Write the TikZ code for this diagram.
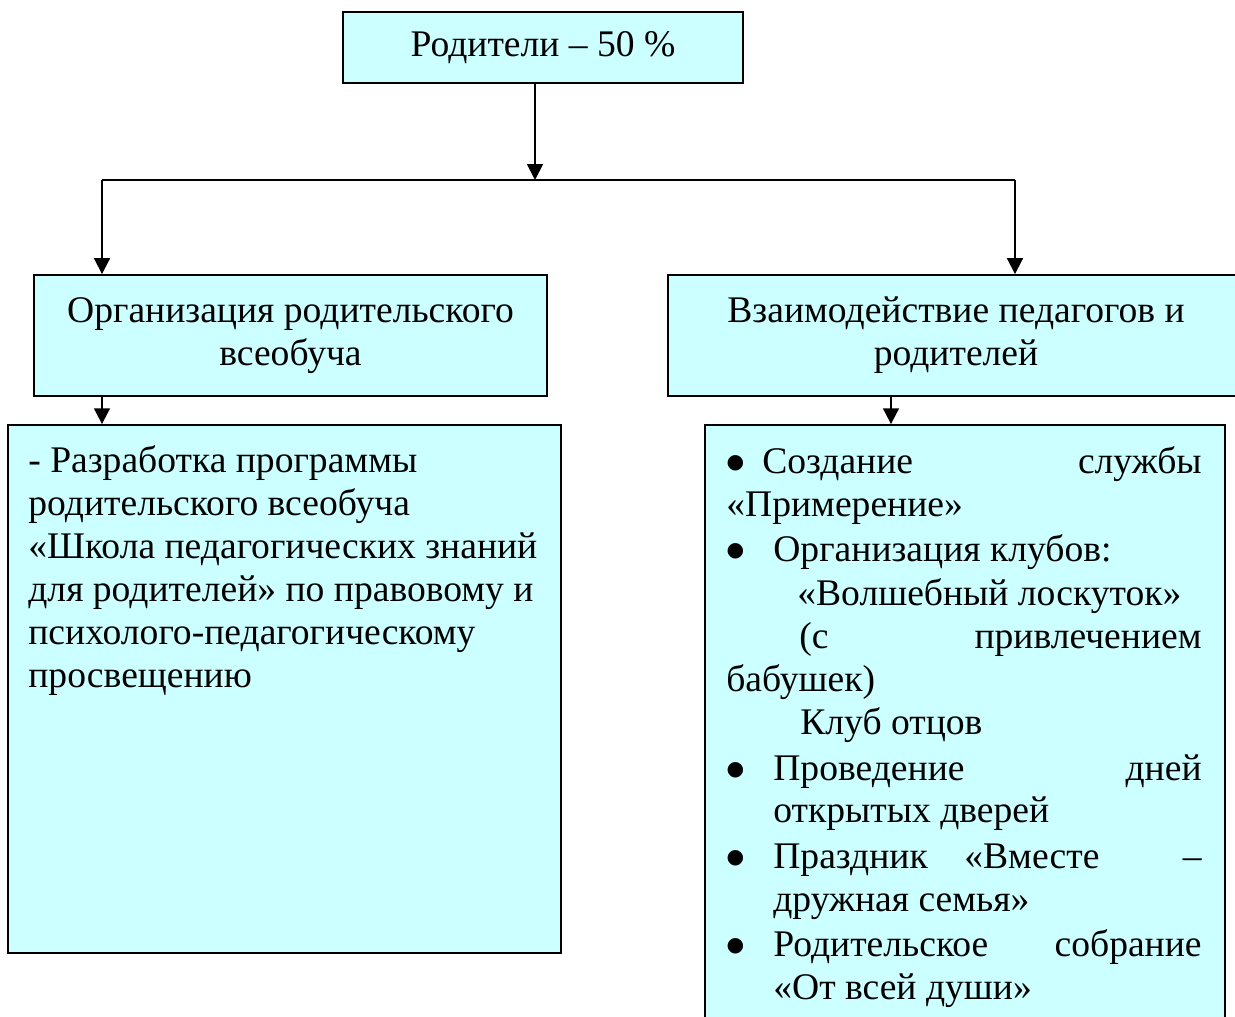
\documentclass[tikz,border=0pt]{standalone}
\usepackage{fontspec}
\setmainfont{Liberation Serif}
\newfontfamily\symfont{DejaVu Sans}
\usetikzlibrary{arrows.meta}
\definecolor{boxfill}{HTML}{CCFFFF}
\newcommand{\bigbullet}[1]{\makebox[#1][l]{\makebox[0.28cm][c]{\raisebox{2.5pt}{\symfont\fontsize{11.5}{11.5}\selectfont ●}}}}
\begin{document}
\begin{tikzpicture}[x=0.02cm,y=-0.02cm,
  box/.style={draw=black, line width=1.1pt, fill=boxfill, rectangle, inner sep=0pt},
  arr/.style={line width=1.1pt, -{Triangle[width=9pt,length=9pt]}},
  conn/.style={line width=1.1pt},
  txt/.style={font=\fontsize{21.4}{24.4}\selectfont, inner sep=0pt},
  lw/.style={txt, anchor=base west},
  le/.style={txt, anchor=base east}]
\useasboundingbox (0,0) rectangle (1235,1017);
\clip (0,0) rectangle (1235,1017);
% boxes
\node[box, txt, minimum width=8cm, minimum height=1.42cm] (top) at (543,47.5) {Родители – 50 \%};
\node[box, txt, align=center, minimum width=10.26cm, minimum height=2.42cm] (org) at (290.5,335.5)
  {Организация родительского\\всеобуча};
\node[box, txt, align=center, minimum width=11.52cm, minimum height=2.42cm] (vz) at (956,335.5)
  {Взаимодействие педагогов и\\родителей};
\node[box, minimum width=11.06cm, minimum height=10.56cm] (prog) at (284.5,689) {};
\node[box, minimum width=10.4cm, minimum height=12.3cm] (list) at (965,732.5) {};
% connectors
\coordinate (j) at (535,180);
\coordinate (jl) at (102,180);
\coordinate (jr) at (1015,180);
\coordinate (jr2) at (891,396);
\draw[arr] (top.south -| j) -- (j);
\draw[conn] (jl) -- (jr);
\draw[arr] (jl) -- (jl |- org.north);
\draw[arr] (jr) -- (jr |- vz.north);
\draw[arr] (org.south -| jl) -- (jl |- prog.north);
\draw[arr] (vz.south -| jr2) -- (jr2 |- list.north);
% left text
\node[lw] (p1) at (28,472) {- Разработка программы};
\node[lw] (p2) at (28,515) {родительского всеобуча};
\node[lw] (p3) at (28,558) {«Школа педагогических знаний};
\node[lw] (p4) at (28,601) {для родителей» по правовому и};
\node[lw] (p5) at (28,644) {психолого-педагогическому};
\node[lw] (p6) at (28,687) {просвещению};
% right text
\node[lw] (r1a) at (728,473) {\bigbullet{0.68cm}Создание};
\node[le] (r1b) at (1202,473) {службы};
\node[lw] (r2) at (726,516) {«Примерение»};
\node[lw] (r3) at (728,561) {\bigbullet{0.9cm}Организация клубов:};
\node[lw] (r4) at (797,605) {«Волшебный лоскуток»};
\node[lw] (r5a) at (799,648) {(с};
\node[le] (r5b) at (1202,648) {привлечением};
\node[lw] (r6) at (726,691) {бабушек)};
\node[lw] (r7) at (800,734) {Клуб отцов};
\node[lw] (r8a) at (728,780) {\bigbullet{0.9cm}Проведение};
\node[le] (r8b) at (1202,780) {дней};
\node[lw] (r9) at (773,822) {открытых дверей};
\node[lw] (r10a) at (728,868) {\bigbullet{0.9cm}Праздник};
\node[lw] (r10b) at (964,868) {«Вместе};
\node[le] (r10c) at (1202,868) {–};
\node[lw] (r11) at (773,911) {дружная семья»};
\node[lw] (r12a) at (728,956) {\bigbullet{0.9cm}Родительское};
\node[le] (r12b) at (1202,956) {собрание};
\node[lw] (r13) at (773,999) {«От всей души»};
\end{tikzpicture}
\end{document}
